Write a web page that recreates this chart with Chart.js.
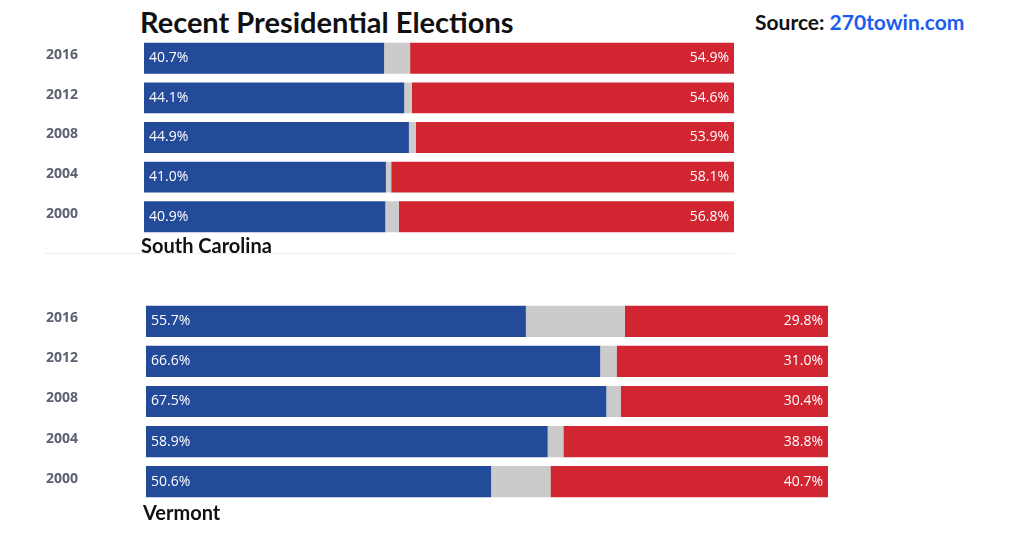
<!DOCTYPE html>
<html>
<head>
<meta charset="utf-8">
<script src="https://cdn.jsdelivr.net/npm/chart.js@4"></script>
<style>
  body { margin: 0; width: 1024px; height: 536px; background: #fff; position: relative; overflow: hidden; font-family: Lato, sans-serif; }
  .abs { position: absolute; }
  canvas { position: absolute; }
  #title { left: 140px; top: 4px; font-size: 29px; font-weight: 700; color: #111; }
  #source { left: 755px; top: 9px; font-size: 21px; font-weight: 700; color: #111; }
  #source span { color: #1a5cf0; }
  .state { font-size: 20px; font-weight: 700; color: #111; }
  #rule { left: 45px; top: 253px; width: 690px; height: 1px; background: #eee; }
</style>
</head>
<body>
<div id="title" class="abs">Recent Presidential Elections</div>
<div id="source" class="abs">Source: <span>270towin.com</span></div>
<canvas id="sc" width="734" height="215" style="left:0;top:30px"></canvas>
<div id="rule" class="abs"></div>
<div class="abs state" style="left:141px;top:233px">South Carolina</div>
<canvas id="vt" width="828" height="217" style="left:0;top:293px"></canvas>
<div class="abs state" style="left:143px;top:500px">Vermont</div>
<script>
const years = ['2016', '2012', '2008', '2004', '2000'];
const scDem = [40.7, 44.1, 44.9, 41.0, 40.9];
const scRep = [54.9, 54.6, 53.9, 58.1, 56.8];
const vtDem = [55.7, 66.6, 67.5, 58.9, 50.6];
const vtRep = [29.8, 31.0, 30.4, 38.8, 40.7];

// percentage labels inside blue and red segments
const valueLabels = {
    id: 'valueLabels',
    afterDatasetsDraw(chart) {
        const ctx = chart.ctx;
        ctx.save();
        ctx.font = "14px 'Open Sans', sans-serif";
        ctx.fillStyle = '#fff';
        ctx.textBaseline = 'middle';
        chart.getDatasetMeta(0).data.forEach((bar, i) => {
            ctx.textAlign = 'left';
            ctx.fillText(chart.data.datasets[0].data[i].toFixed(1) + '%', bar.base + 5, bar.y);
        });
        chart.getDatasetMeta(2).data.forEach((bar, i) => {
            ctx.textAlign = 'right';
            ctx.fillText(chart.data.datasets[2].data[i].toFixed(1) + '%', bar.x - 5, bar.y);
        });
        ctx.restore();
    }
};

function makeChart(id, dem, rep, axisWidth) {
    const other = dem.map((d, i) => +(100 - d - rep[i]).toFixed(1));
    new Chart(document.getElementById(id), {
        type: 'bar',
        data: {
            labels: years,
            datasets: [
                { data: dem, backgroundColor: '#244a9a' },
                { data: other, backgroundColor: '#cbcbcb' },
                { data: rep, backgroundColor: '#d22532' }
            ]
        },
        options: {
            indexAxis: 'y',
            responsive: false,
            animation: false,
            devicePixelRatio: 1,
            datasets: { bar: { categoryPercentage: 1, barPercentage: 0.78 } },
            layout: { padding: 0 },
            plugins: { legend: { display: false }, tooltip: { enabled: false } },
            scales: {
                x: { stacked: true, min: 0, max: 100, display: false },
                y: {
                    stacked: true,
                    grid: { display: false },
                    border: { display: false },
                    afterFit: scale => { scale.width = axisWidth; },
                    ticks: {
                        crossAlign: 'far',
                        padding: 0,
                        labelOffset: -3,
                        color: '#5a6270',
                        font: { family: "'Open Sans', sans-serif", size: 14, weight: 'bold' }
                    }
                }
            }
        },
        plugins: [valueLabels, {
            id: 'shiftTicks',
            beforeDraw(chart) { chart.scales.y.left = 46; }
        }]
    });
}

makeChart('sc', scDem, scRep, 144);
makeChart('vt', vtDem, vtRep, 146);
</script>
</body>
</html>
